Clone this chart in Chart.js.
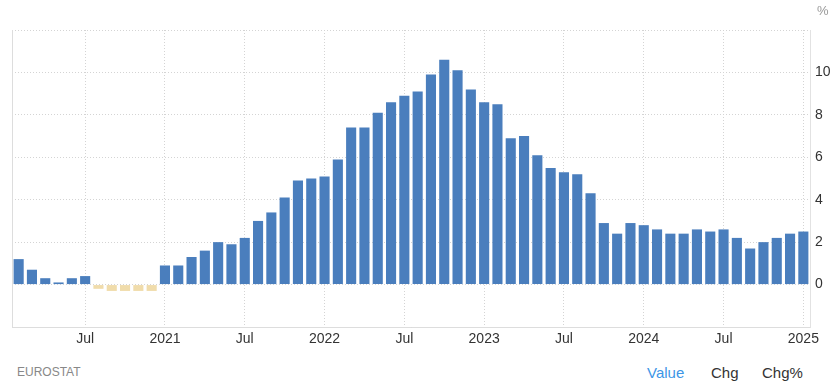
<!DOCTYPE html>
<html>
<head>
<meta charset="utf-8">
<script src="https://cdn.jsdelivr.net/npm/chart.js@4.4.1/dist/chart.umd.min.js"></script>
<style>
  body { margin: 0; background: #fff; font-family: "Liberation Sans", Arial, sans-serif; }
  #wrap { position: relative; width: 834px; height: 388px; }
  #box { position: absolute; left: 0; top: 0; width: 834px; height: 353px; }
  .txt { position: absolute; white-space: nowrap; }
</style>
</head>
<body>
<div id="wrap">
  <div id="box"><canvas id="myChart"></canvas></div>
  <div class="txt" style="left:817px; top:3px; font-size:13px; color:#999;">%</div>
  <div class="txt" style="left:17px; top:365px; font-size:12px; color:#888;">EUROSTAT</div>
  <div class="txt" style="left:647px; top:364px; font-size:15px; color:#3d96e6;">Value</div>
  <div class="txt" style="left:711px; top:364px; font-size:15px; color:#333;">Chg</div>
  <div class="txt" style="left:762px; top:364px; font-size:15px; color:#333;">Chg%</div>
</div>
<script>
// mois, de fevrier 2020 a janvier 2025
let months = [
  '2020-02','2020-03','2020-04','2020-05','2020-06','2020-07','2020-08','2020-09','2020-10','2020-11','2020-12',
  '2021-01','2021-02','2021-03','2021-04','2021-05','2021-06','2021-07','2021-08','2021-09','2021-10','2021-11','2021-12',
  '2022-01','2022-02','2022-03','2022-04','2022-05','2022-06','2022-07','2022-08','2022-09','2022-10','2022-11','2022-12',
  '2023-01','2023-02','2023-03','2023-04','2023-05','2023-06','2023-07','2023-08','2023-09','2023-10','2023-11','2023-12',
  '2024-01','2024-02','2024-03','2024-04','2024-05','2024-06','2024-07','2024-08','2024-09','2024-10','2024-11','2024-12',
  '2025-01'
]

let inflation = [
  1.2, 0.7, 0.3, 0.1, 0.3, 0.4, -0.2, -0.3, -0.3, -0.3, -0.3,
  0.9, 0.9, 1.3, 1.6, 2.0, 1.9, 2.2, 3.0, 3.4, 4.1, 4.9, 5.0,
  5.1, 5.9, 7.4, 7.4, 8.1, 8.6, 8.9, 9.1, 9.9, 10.6, 10.1, 9.2,
  8.6, 8.5, 6.9, 7.0, 6.1, 5.5, 5.3, 5.2, 4.3, 2.9, 2.4, 2.9,
  2.8, 2.6, 2.4, 2.4, 2.6, 2.5, 2.6, 2.2, 1.7, 2.0, 2.2, 2.4,
  2.5
]

let yTicks = [0, 2, 4, 6, 8, 10]

function tickLabel(i) {
  let parts = months[i].split('-')
  if (parts[1] === '01') return parts[0]
  if (parts[1] === '07') return 'Jul'
  return ''
}

const chart1 = document.querySelector('#myChart')

let data = {
  labels: months,
  datasets: [{
    data: inflation,
    backgroundColor: ctx => ctx.raw < 0 ? '#f0dcab' : '#4a7ebd',
    barPercentage: 0.76,
    categoryPercentage: 1
  }]
}

let options = {
  responsive: true,
  maintainAspectRatio: false,
  animation: false,
  layout: { padding: { left: 12, top: 30, right: 0, bottom: 0 } },
  plugins: {
    legend: { display: false },
    tooltip: { enabled: false }
  },
  scales: {
    x: {
      offset: true,
      grid: {
        offset: false,
        drawTicks: false,
        color: ctx => tickLabel(ctx.index) ? '#d4d4d4' : 'rgba(0,0,0,0)'
      },
      // dash = pointilles des lignes de grille (v4)
      border: { display: true, color: '#dddddd', dash: [1, 2] },
      ticks: {
        autoSkip: false,
        maxRotation: 0,
        padding: 4,
        color: '#333',
        font: { family: 'Liberation Sans', size: 14 },
        callback: (v, i) => tickLabel(i)
      },
      afterFit: scale => { scale.height = 26 }
    },
    y: {
      position: 'right',
      min: -2,
      max: 12,
      grid: { color: '#d4d4d4', drawTicks: false },
      border: { display: true, color: '#e2e2e2', dash: [1, 2] },
      ticks: {
        stepSize: 2,
        padding: 5,
        color: '#333',
        font: { family: 'Liberation Sans', size: 14 },
        callback: v => yTicks.includes(v) ? String(v) : ''
      },
      afterFit: scale => { scale.width = 24 }
    },
    left: {
      position: 'left',
      min: -2,
      max: 12,
      grid: { display: false },
      border: { display: true, color: '#dddddd' },
      ticks: { display: false },
      afterFit: scale => { scale.width = 0 }
    }
  }
}

let content = { type: 'bar', data: data, options: options }

let lineChart1 = new Chart(chart1, content)
</script>
</body>
</html>
